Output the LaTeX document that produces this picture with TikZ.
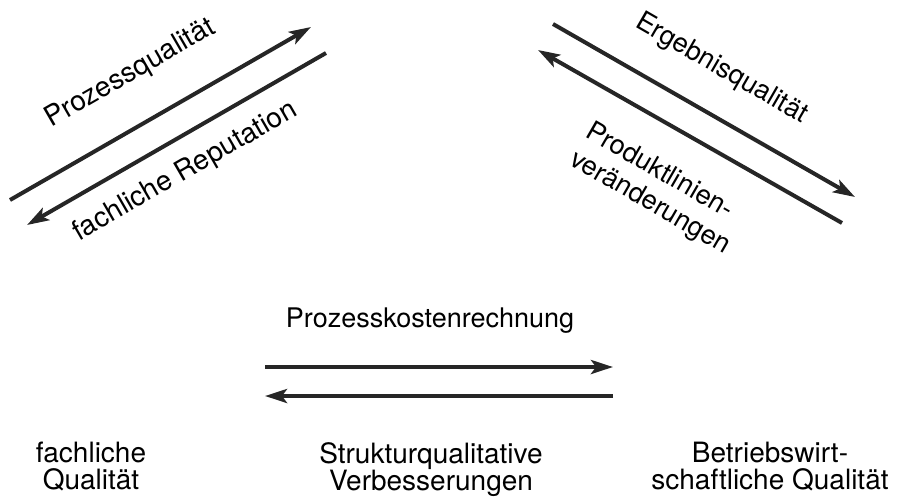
\documentclass[tikz,border=0pt]{standalone}
\usepackage{fontspec}
\setmainfont{TeX Gyre Heros}
\usetikzlibrary{arrows.meta}

\tikzset{
  flow/.style={line width=4pt,draw=black!85,-{Stealth[length=22pt,width=14pt,inset=5pt]}},
  lbl/.style={inner sep=0pt,font=\fontsize{27}{30}\selectfont},
  base lbl/.style={lbl,anchor=north,align=center,font=\fontsize{28}{27}\selectfont},
}

\begin{document}
\begin{tikzpicture}[x=1pt,y=-1pt]
\useasboundingbox (0,0) rectangle (901,499);
% linke Seite
\coordinate (pq1) at (10,200);
\coordinate (pq2) at (311,27);
\coordinate (fr1) at (326,53);
\coordinate (fr2) at (27,225);
\draw[flow] (pq1) -- (pq2);
\draw[flow] (fr1) -- (fr2);
\node[lbl,rotate=30,anchor=base,font=\fontsize{28}{30}\selectfont] (pq) at (134,80) {Prozessqualität};
\node[lbl,rotate=30,anchor=base,font=\fontsize{28}{30}\selectfont] (fr) at (189,178) {fachliche Reputation};
% rechte Seite
\coordinate (eq1) at (553,24);
\coordinate (eq2) at (855,197);
\coordinate (pv1) at (842,223);
\coordinate (pv2) at (538,50);
\draw[flow] (eq1) -- (eq2);
\draw[flow] (pv1) -- (pv2);
\node[lbl,rotate=-30,anchor=base] (eq) at (718,75) {Ergebnisqualität};
\node[lbl,rotate=-30,anchor=north west,align=left,font=\fontsize{27}{32}\selectfont] (pv) at (594,119) {Produktlinien-\\veränderungen};
% Mitte
\node[lbl,anchor=base] (pk) at (430,327) {Prozesskostenrechnung};
\coordinate (pk1) at (265,367);
\coordinate (pk2) at (613,367);
\coordinate (sv1) at (613,396);
\coordinate (sv2) at (265,396);
\draw[flow] (pk1) -- (pk2);
\draw[flow] (sv1) -- (sv2);
% unten
\node[base lbl] (fq) at (91,442) {fachliche\\Qualität};
\node[base lbl] (sq) at (431,442) {Strukturqualitative\\Verbesserungen};
\node[base lbl] (bq) at (770,442) {Betriebswirt-\\schaftliche Qualität};
\end{tikzpicture}
\end{document}
